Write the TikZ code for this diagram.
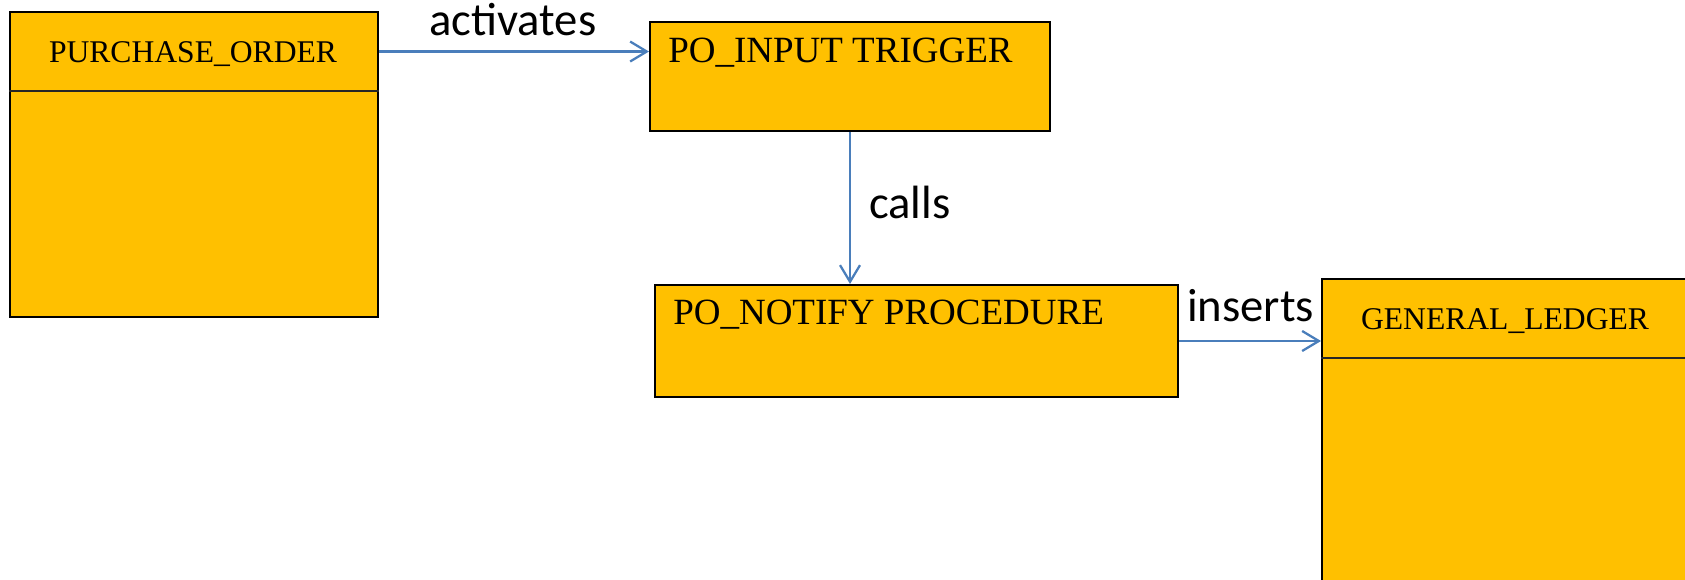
\documentclass[tikz,border=0pt]{standalone}
\usepackage{fontspec}
\setmainfont{Liberation Serif}
\newfontfamily\labelfont{Carlito}
\usetikzlibrary{arrows.meta}
\definecolor{boxfill}{HTML}{FFC000}
\definecolor{linkblue}{HTML}{4A7EBB}
\begin{document}
\begin{tikzpicture}[x=0.75pt,y=-0.75pt,
  box/.style={draw=black, line width=1.5pt, fill=boxfill, rectangle,
              inner sep=0pt, anchor=north west},
  divider/.style={draw=black!85, line width=1.2pt},
  link/.style={draw=linkblue, line width=1.7pt,
               -{Straight Barb[length=12.5pt,width=15pt,line width=1.7pt]}},
  title/.style={font=\fontsize{23.7pt}{28pt}\selectfont, inner sep=0pt, anchor=base},
  unitname/.style={font=\fontsize{27.75pt}{32pt}\selectfont, inner sep=0pt, anchor=base west},
  verb/.style={font=\labelfont\fontsize{35pt}{40pt}\selectfont, inner sep=0pt, anchor=base west}]
\useasboundingbox (0,0) rectangle (1685,580);
\clip (0,0) rectangle (1685,580);

% table PURCHASE_ORDER
\node[box, minimum width=276pt, minimum height=228.75pt] (po) at (9,11) {};
\draw[divider] ([yshift=-60pt]po.north west) -- ([yshift=-60pt]po.north east);
\node[title] (potitle) at (193,63) {PURCHASE\_ORDER};
\coordinate (pohdr) at ([yshift=-30.4pt]po.north east);

% trigger
\node[box, minimum width=300pt, minimum height=81.75pt] (trig) at (649,21.5) {};
\node[unitname] (trigtitle) at (668,63) {PO\_INPUT TRIGGER};

% procedure
\node[box, minimum width=392.25pt, minimum height=84pt] (notify) at (654,284) {};
\node[unitname] (notifytitle) at (673,325) {PO\_NOTIFY PROCEDURE};

% table GENERAL_LEDGER
\node[box, minimum width=276pt, minimum height=256.5pt] (gl) at (1321,278) {};
\draw[divider] ([yshift=-60pt]gl.north west) -- ([yshift=-60pt]gl.north east);
\node[title] (gltitle) at (1505,330) {GENERAL\_LEDGER};

% connectors
\draw[link] (pohdr) -- (pohdr -| trig.west);
\draw[link] (trig.south) -- (trig.south |- notify.north);
\draw[link] (notify.east) -- (notify.east -| gl.west);

% connector labels
\node[verb] (lactivates) at (429,36) {activates};
\node[verb] (lcalls) at (869,219) {calls};
\node[verb] (linserts) at (1187,322) {inserts};
\end{tikzpicture}
\end{document}
